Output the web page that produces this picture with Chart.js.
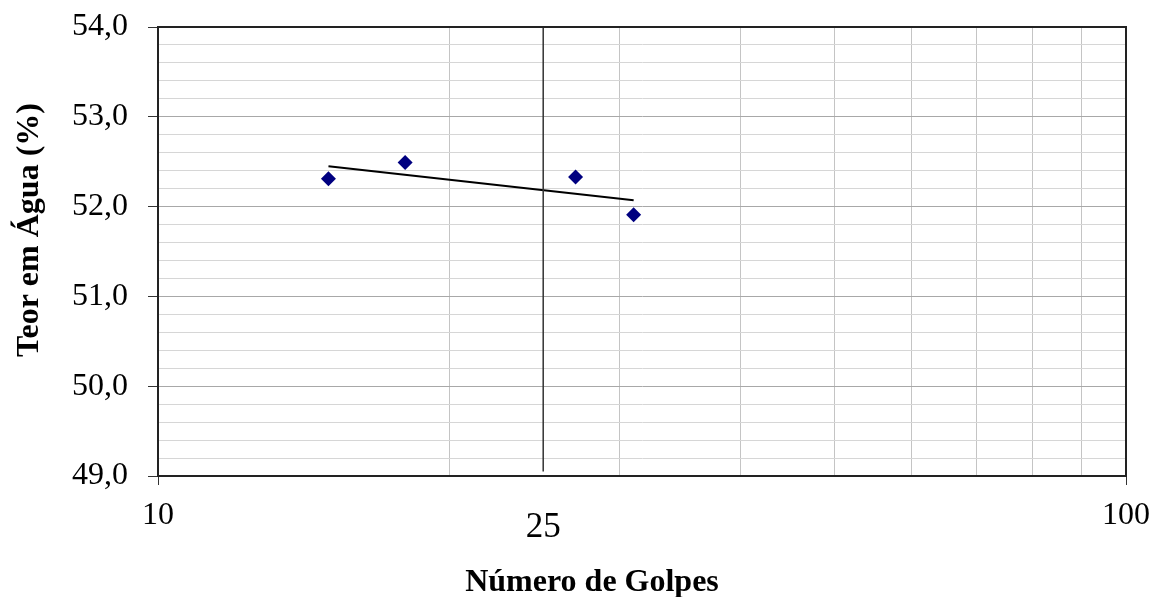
<!DOCTYPE html>
<html>
<head>
<meta charset="utf-8">
<script src="https://cdn.jsdelivr.net/npm/chart.js@4.4.1/dist/chart.umd.min.js"></script>
<style>
  html, body { margin: 0; padding: 0; background: #fff; }
  #wrap { width: 1155px; height: 597px; }
</style>
</head>
<body>
<div id="wrap"><canvas id="graph"></canvas></div>
<script>
// pontos medidos (golpes x teor em agua)
const golpes = [15, 18, 27, 31];
const teor = [52.31, 52.49, 52.33, 51.91];

// linha de tendencia
const trendX = [15, 31];
const trendY = [52.45, 52.07];

// linha vertical nos 25 golpes
const refX = [25, 25];
const refY = [49.05, 54];

const xGrid = [10, 20, 30, 40, 50, 60, 70, 80, 90, 100];
const xLabels = [10, 100];
const xMarkLabel = 25;

const xTitle = 'Número de Golpes';
const yTitle = 'Teor em Água (%)';

function pts(xs, ys) {
    return xs.map((x, i) => ({ x: x, y: ys[i] }));
}

function isInt(v) {
    return Math.abs(v - Math.round(v)) < 1e-6;
}

const extras = {
    id: 'extras',
    afterDraw(chart) {
        const ctx = chart.ctx;
        const a = chart.chartArea;
        ctx.save();
        // moldura de cima e da direita
        ctx.strokeStyle = '#222';
        ctx.lineWidth = 2;
        ctx.beginPath();
        ctx.moveTo(a.left, a.top);
        ctx.lineTo(a.right, a.top);
        ctx.lineTo(a.right, a.bottom);
        ctx.stroke();

        ctx.fillStyle = '#000';
        // rotulo 25
        ctx.font = '35px "Liberation Serif"';
        ctx.textAlign = 'center';
        ctx.textBaseline = 'middle';
        ctx.fillText(String(xMarkLabel), chart.scales.x.getPixelForValue(xMarkLabel), 528);

        // titulos dos eixos
        ctx.font = 'bold 32px "Liberation Serif"';
        ctx.fillText(xTitle, 592, 583);
        ctx.translate(30, 230);
        ctx.rotate(-Math.PI / 2);
        ctx.fillText(yTitle, 0, 0);
        ctx.restore();
    }
};

const graph = document.getElementById('graph').getContext('2d');

const chart = new Chart(graph, {
    type: 'scatter',
    data: {
        datasets: [{
            label: 'ref',
            data: pts(refX, refY),
            showLine: true,
            borderColor: '#333',
            borderWidth: 1.5,
            pointRadius: 0,
        }, {
            label: 'tendencia',
            data: pts(trendX, trendY),
            showLine: true,
            borderColor: '#000',
            borderWidth: 2,
            pointRadius: 0,
        }, {
            label: 'Teor',
            data: pts(golpes, teor),
            pointStyle: 'rectRot',
            pointRadius: 7.5,
            backgroundColor: '#000080',
            borderColor: '#000080',
            borderWidth: 0,
        }]
    },
    options: {
        responsive: true,
        maintainAspectRatio: false,
        animation: false,
        layout: {
            padding: { left: 0, top: 27, right: 29, bottom: 0 }
        },
        plugins: {
            legend: { display: false },
            tooltip: { enabled: false },
        },
        scales: {
            x: {
                type: 'logarithmic',
                min: 10,
                max: 100,
                afterBuildTicks: (s) => { s.ticks = xGrid.map(v => ({ value: v })); },
                afterFit: (s) => {
                    s.height = 121;
                    s.paddingLeft = 0;
                    s.paddingRight = 0;
                },
                border: { color: '#222', width: 2 },
                grid: {
                    color: '#c4c4c4',
                    lineWidth: 1,
                    tickLength: 9,
                    tickColor: (c) => xLabels.includes(c.tick.value) ? '#333' : 'rgba(0,0,0,0)',
                },
                ticks: {
                    autoSkip: false,
                    maxRotation: 0,
                    padding: 11,
                    color: '#000',
                    font: { family: '"Liberation Serif"', size: 32 },
                    callback: (v) => xLabels.includes(v) ? String(v) : '',
                }
            },
            y: {
                type: 'linear',
                min: 49,
                max: 54,
                afterFit: (s) => {
                    s.width = 158;
                    s.paddingTop = 0;
                    s.paddingBottom = 0;
                },
                border: { color: '#222', width: 2 },
                grid: {
                    color: (c) => isInt(c.tick.value) ? '#a8a8a8' : '#d6d6d6',
                    lineWidth: 1,
                    tickLength: 10,
                    tickColor: (c) => isInt(c.tick.value) ? '#333' : 'rgba(0,0,0,0)',
                },
                ticks: {
                    stepSize: 0.2,
                    maxTicksLimit: 100,
                    autoSkip: false,
                    padding: 20,
                    color: '#000',
                    font: { family: '"Liberation Serif"', size: 32 },
                    callback: (v) => isInt(v) ? v.toFixed(1).replace('.', ',') : '',
                }
            }
        }
    },
    plugins: [extras]
});
</script>
</body>
</html>
